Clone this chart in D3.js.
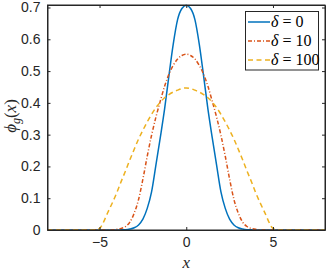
<!DOCTYPE html>
<html><head><meta charset="utf-8">
<script src="https://cdn.jsdelivr.net/npm/d3@7"></script>
<style>body{margin:0;background:#fff}svg{display:block}</style>
</head><body>
<svg id="c" width="327" height="273"></svg>
<script>
const xs = [-8,-6,-5.25,-5,-4.5,-4,-3.75,-3.5,-3.25,-3,-2.75,-2.5,-2.25,-2,-1.75,-1.5,-1.25,-1,-0.75,-0.5,-0.25,0,0.25,0.5,0.75,1,1.25,1.5,1.75,2,2.25,2.5,2.75,3,3.25,3.5,3.75,4,4.5,5,5.25,6,8];
const delta0 = [0,0,0,0,0,0,0.0005,0.001,0.003,0.007,0.016,0.034,0.068,0.12,0.204,0.29,0.38,0.485,0.585,0.662,0.697,0.707,0.697,0.662,0.585,0.485,0.38,0.29,0.204,0.12,0.068,0.034,0.016,0.007,0.003,0.001,0.0005,0,0,0,0,0,0];
const delta10 = [0,0,0,0,0,0.002,0.005,0.011,0.025,0.053,0.096,0.16,0.232,0.298,0.355,0.405,0.452,0.49,0.518,0.538,0.549,0.553,0.549,0.538,0.518,0.49,0.452,0.405,0.355,0.298,0.232,0.16,0.096,0.053,0.025,0.011,0.005,0.002,0,0,0,0,0];
const delta100 = [0,0,0,0.005,0.058,0.118,0.153,0.186,0.221,0.254,0.286,0.314,0.340,0.364,0.385,0.402,0.416,0.426,0.434,0.440,0.445,0.447,0.445,0.440,0.434,0.426,0.416,0.402,0.385,0.364,0.340,0.314,0.286,0.254,0.221,0.186,0.153,0.118,0.058,0.005,0,0,0];
const seriesNames = ["δ = 0","δ = 10","δ = 100"];
const xTicks = [-5,0,5];
const yTicks = [0,0.1,0.2,0.3,0.4,0.5,0.6,0.7];

const svg = d3.select("#c");
const L=47.5, R=325, T=5, B=230;
const x = d3.scaleLinear().domain([-8,8]).range([L,R]);
const y = d3.scaleLinear().domain([0,0.7079]).range([B,T]);
const axisCol = "#262626";

const series = [
  {name:seriesNames[0], vals:delta0, color:"#0072BD", dash:null},
  {name:seriesNames[1], vals:delta10, color:"#D95319", dash:"4,2,1,2"},
  {name:seriesNames[2], vals:delta100, color:"#EDB120", dash:"5,3.5"}
];
const line = d3.line().x(d=>x(d[0])).y(d=>y(d[1])).curve(d3.curveMonotoneX);
const g = svg.append("g");
series.forEach(s=>{
  g.append("path").datum(xs.map((xv,i)=>[xv,s.vals[i]]))
   .attr("d",line).attr("fill","none").attr("stroke",s.color)
   .attr("stroke-width",1.5).attr("stroke-dasharray",s.dash);
});

// axes
const fontSans = "Liberation Sans, Arial, sans-serif";
const xb = svg.append("g").attr("transform",`translate(0,${B})`)
  .call(d3.axisBottom(x).tickValues(xTicks).tickSizeInner(-3).tickSizeOuter(0).tickPadding(7).tickFormat(d3.format("d")));
const xt = svg.append("g").attr("transform",`translate(0,${T})`)
  .call(d3.axisTop(x).tickValues(xTicks).tickSizeInner(-3).tickSizeOuter(0).tickFormat(""));
const yl = svg.append("g").attr("transform",`translate(${L},0)`)
  .call(d3.axisLeft(y).tickValues(yTicks).tickSizeInner(-3).tickSizeOuter(0).tickPadding(7).tickFormat(d=>d===0?"0":d3.format(".1f")(d)));
const yr = svg.append("g").attr("transform",`translate(${R},0)`)
  .call(d3.axisRight(y).tickValues(yTicks).tickSizeInner(-3).tickSizeOuter(0).tickFormat(""));
[xb,xt,yl,yr].forEach(a=>{
  a.selectAll("path").attr("stroke",axisCol).attr("stroke-width",1);
  a.selectAll("line").attr("stroke",axisCol).attr("stroke-width",1);
  a.selectAll("text").attr("fill","#262626").style("font-family",fontSans).style("font-size","14px");
});
xb.selectAll("text").attr("dy","0.71em");
svg.append("rect").attr("x",L).attr("y",T).attr("width",R-L).attr("height",B-T)
  .attr("fill","none").attr("stroke",axisCol).attr("stroke-width",1);

// axis labels
const fontSerif = "Liberation Serif, DejaVu Serif, serif";
svg.append("text").attr("x",x(0)).attr("y",268).attr("text-anchor","middle")
  .style("font-family",fontSerif).style("font-size","17px").style("font-style","italic").attr("fill","#262626").text("x");
const ylab = svg.append("text").attr("transform","translate(16,116) rotate(-90)").attr("text-anchor","middle")
  .style("font-family",fontSerif).style("font-size","17px").attr("fill","#262626");
ylab.append("tspan").style("font-style","italic").text("ϕ");
ylab.append("tspan").style("font-style","italic").style("font-size","12px").attr("dy",4).text("g");
ylab.append("tspan").attr("dy",-4).text("(");
ylab.append("tspan").style("font-style","italic").text("x");
ylab.append("tspan").text(")");

// legend
const lg = svg.append("g");
lg.append("rect").attr("x",245.5).attr("y",11.5).attr("width",73).attr("height",58.5)
  .attr("fill","#fff").attr("stroke",axisCol).attr("stroke-width",1);
series.forEach((s,i)=>{
  const yy = 22 + i*19;
  lg.append("line").attr("x1",248).attr("x2",270).attr("y1",yy).attr("y2",yy)
    .attr("stroke",s.color).attr("stroke-width",1.5).attr("stroke-dasharray",s.dash);
  const t = lg.append("text").attr("x",271).attr("y",yy+5).style("font-family",fontSerif).style("font-size","16px").attr("fill","#000");
  const parts = s.name.split(" = ");
  t.append("tspan").style("font-style","italic").text(parts[0]);
  t.append("tspan").text(" = "+parts[1]);
});
</script>
</body></html>
